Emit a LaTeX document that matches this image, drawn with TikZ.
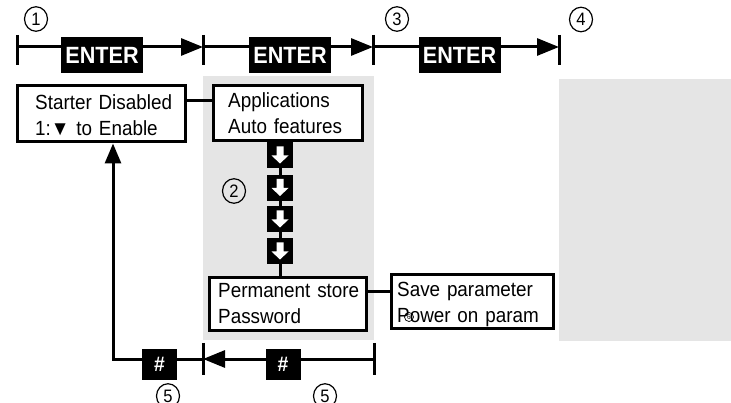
\documentclass[tikz,border=0pt]{standalone}
\usepackage{fontspec}
\setmainfont{Liberation Sans}
\newfontfamily\condfont[FakeStretch=0.92]{Liberation Sans}
\usetikzlibrary{arrows.meta,shapes.geometric}
\tikzset{
  conn/.style={line width=3pt},
  tickline/.style={line width=3pt},
  bigtip/.style={-{Triangle[length=22pt,width=17pt]}},
  keybox/.style={fill=black, text=white, inner sep=0pt,
    font={\condfont\bfseries\fontsize{23.5pt}{24pt}\selectfont},
    minimum width=82pt, minimum height=36pt},
  hashbox/.style={keybox, minimum width=35pt, minimum height=31pt,
    font={\condfont\bfseries\fontsize{21pt}{22pt}\selectfont}},
  menubox/.style={draw, line width=3pt, fill=white, inner sep=0pt},
  menutext/.style={font={\condfont\fontsize{20.5pt}{25.5pt}\selectfont},
    text width=170pt, align=left, inner sep=0pt, anchor=base west},
  downkey/.style={fill=black, minimum size=26pt, inner sep=0pt,
    path picture={\fill[white] ([shift={(-3.5pt,9pt)}]path picture bounding box.center)
      -- ++(7pt,0pt) -- ++(0pt,-9pt) -- ++(5pt,0pt) -- ++(-8.5pt,-8pt)
      -- ++(-8.5pt,8pt) -- ++(5pt,0pt) -- cycle;}},
  num/.style={ellipse, draw, line width=1.2pt, inner sep=0pt,
    minimum width=23pt, minimum height=24.5pt,
    font={\condfont\fontsize{18pt}{18pt}\selectfont}},
  smallnum/.style={circle, draw, line width=0.7pt, inner sep=0pt,
    minimum size=9pt, font={\condfont\fontsize{7pt}{7pt}\selectfont}},
  shadearea/.style={fill=black!10}
}
\begin{document}
\begin{tikzpicture}[x=1pt,y=-1pt]
\useasboundingbox (0,0) rectangle (731,403);
% grey areas
\fill[shadearea] (203,76) rectangle (374,340);
\fill[shadearea] (559,79) rectangle (731,341);
% top time line
\coordinate (t1) at (17,47);
\coordinate (t2) at (203,47);
\coordinate (t3) at (373,47);
\coordinate (t4) at (559,47);
\foreach \t in {t1,t2,t3,t4}
  \draw[tickline] ([yshift=12pt]\t) -- ([yshift=-18pt]\t);
\draw[conn,bigtip] (t1) -- (t2);
\draw[conn,bigtip] (t2) -- (t3);
\draw[conn,bigtip] (t3) -- (t4);
\node[keybox] (e1) at (102,55) {ENTER};
\node[keybox] (e2) at (290,55) {ENTER};
\node[keybox] (e3) at (459.5,55) {ENTER};
% menu boxes
\node[menubox, minimum width=168pt, minimum height=56pt] (starter) at (101,114) {};
\node[menubox, minimum width=149pt, minimum height=55pt] (apps) at (287.5,113.5) {};
\node[menubox, minimum width=157pt, minimum height=53pt] (perm) at (287.5,304.5) {};
\node[menubox, minimum width=162pt, minimum height=54pt] (save) at (472,302) {};
\node[menutext] (starterT) at (35,110) {Starter Disabled\\1:▼ to Enable};
\node[menutext] (appsT) at (228,108) {Applications\\Auto features};
\node[menutext] (permT) at (218,298) {Permanent store\\Password};
\node[menutext] (saveT) at (397,297) {Save parameter\\Power on param};
\node[smallnum] (six) at (409,317) {6};
% connections between boxes
\draw[conn] ([yshift=13pt]starter.east) -- ([yshift=13pt]starter.east -| apps.west);
\draw[conn] ([yshift=12.5pt]perm.east) -- ([yshift=12.5pt]perm.east -| save.west);
\coordinate (kx) at (280,0);
\draw[conn] (apps.south -| kx) -- (perm.north -| kx);
\node[downkey] (k1) at (280,155.5) {};
\node[downkey] (k2) at (280,188) {};
\node[downkey] (k3) at (280,219.5) {};
\node[downkey] (k4) at (280,251.5) {};
% bottom line
\coordinate (b2) at (203,359);
\coordinate (b3) at (374,359);
\coordinate (bl) at (113,359);
\foreach \t in {b2,b3}
  \draw[tickline] ([yshift=16pt]\t) -- ([yshift=-16pt]\t);
\draw[conn,bigtip] (b3) -- (b2);
\draw[conn,-{Triangle[length=20pt,width=16pt]}] (b2) -- (bl) -- (bl |- starter.south);
\node[hashbox] (h1) at (159.5,364.5) {\#};
\node[hashbox] (h2) at (283,364.5) {\#};
% step numbers
\node[num] (n1) at (36,19) {1};
\node[num] (n2) at (234,191) {2};
\node[num] (n3) at (397,19) {3};
\node[num] (n4) at (581,19.5) {4};
\node[num] (n5a) at (168,396) {5};
\node[num] (n5b) at (325,396) {5};
\end{tikzpicture}
\end{document}
